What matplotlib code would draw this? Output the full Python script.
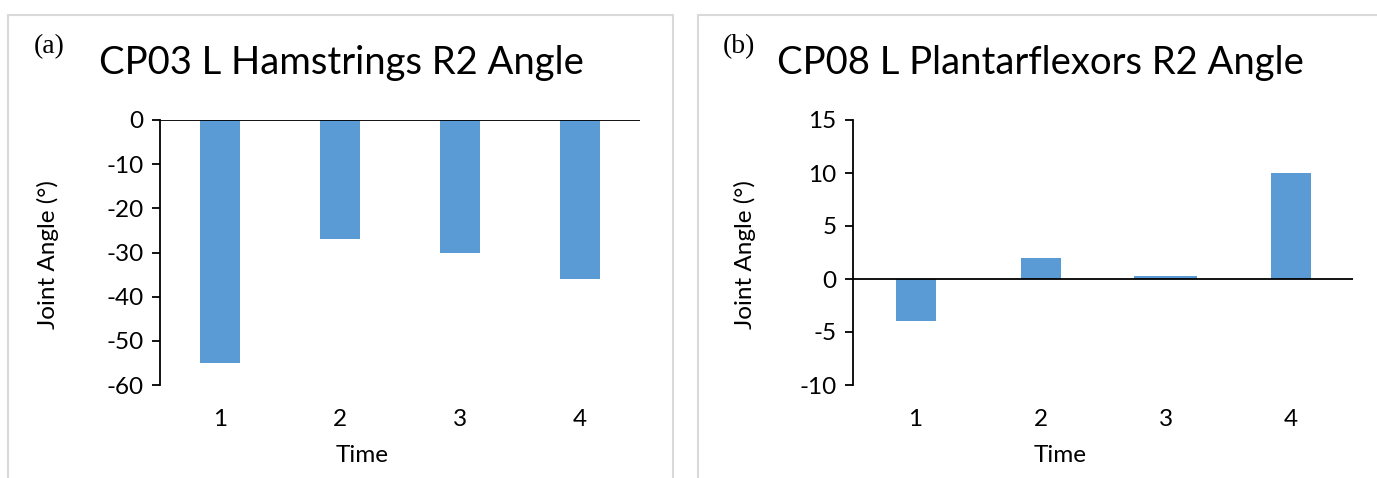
import matplotlib
matplotlib.use("Agg")
import matplotlib.pyplot as plt
from matplotlib.patches import Rectangle

# ---- data ----
categories = ["1", "2", "3", "4"]
hamstrings_values = [-55, -27, -30, -36]
plantar_values = [-4, 2, 0.3, 10]
title_a = "CP03 L Hamstrings R2 Angle"
title_b = "CP08 L Plantarflexors R2 Angle"
yticks_a = [0, -10, -20, -30, -40, -50, -60]
yticks_b = [15, 10, 5, 0, -5, -10]

W, H = 1377, 478
fig = plt.figure(figsize=(W / 100, H / 100), dpi=100)
FONT = "Lato"
BAR = "#5B9BD5"

def px_axes(l, t, r, b):
    return fig.add_axes([l / W, (H - b) / H, (r - l) / W, (b - t) / H])

# panel borders
for (l, t, r, b) in [(8, 15, 673, 480), (698, 15, 1380, 480)]:
    fig.patches.append(Rectangle((l / W, (H - b) / H), (r - l) / W, (b - t) / H,
                                 transform=fig.transFigure, fill=False,
                                 edgecolor="#d9d9d9", linewidth=1.5))

def make_panel(ax, vals, yticks, widths):
    x = list(range(1, len(categories) + 1))
    ax.bar(x, vals, width=widths, color=BAR, zorder=2)
    ax.set_xlim(0.5, len(categories) + 0.5)
    ax.set_ylim(min(yticks), max(yticks))
    ax.set_yticks(yticks)
    ax.set_yticklabels([str(v) for v in yticks], fontsize=17.5, family=FONT)
    ax.set_xticks(x)
    ax.set_xticklabels(categories, fontsize=17.5, family=FONT)
    ax.tick_params(axis="x", length=0, pad=17)
    ax.tick_params(axis="y", length=6, width=1.3, pad=6)
    for s in ["top", "right", "bottom"]:
        ax.spines[s].set_visible(False)
    ax.spines["left"].set_linewidth(1.3)
    ax.axhline(0, color="black", linewidth=1.3, zorder=3)
    ax.set_facecolor("none")

ax1 = px_axes(160, 120, 640, 385)
make_panel(ax1, hamstrings_values, yticks_a, 0.33)
ax2 = px_axes(853, 120, 1353, 385)
make_panel(ax2, plantar_values, yticks_b, [0.32, 0.32, 0.5, 0.32])

# titles and labels
fig.text(341 / W, 1 - 63 / H, title_a, fontsize=27.5, family=FONT, ha="center", va="center")
fig.text(1040 / W, 1 - 63 / H, title_b, fontsize=27.5, family=FONT, ha="center", va="center")
fig.text(49 / W, 1 - 47 / H, "(a)", fontsize=20, family="Liberation Serif", ha="center", va="center")
fig.text(739 / W, 1 - 47 / H, "(b)", fontsize=20, family="Liberation Serif", ha="center", va="center")
fig.text(48 / W, 1 - 255 / H, "Joint Angle (°)", fontsize=17.5, family=FONT, rotation=90, ha="center", va="center")
fig.text(745 / W, 1 - 255 / H, "Joint Angle (°)", fontsize=17.5, family=FONT, rotation=90, ha="center", va="center")
fig.text(362 / W, 1 - 455 / H, "Time", fontsize=17.5, family=FONT, ha="center", va="center")
fig.text(1060 / W, 1 - 455 / H, "Time", fontsize=17.5, family=FONT, ha="center", va="center")

fig.savefig("out.png", dpi=100, facecolor="white")
